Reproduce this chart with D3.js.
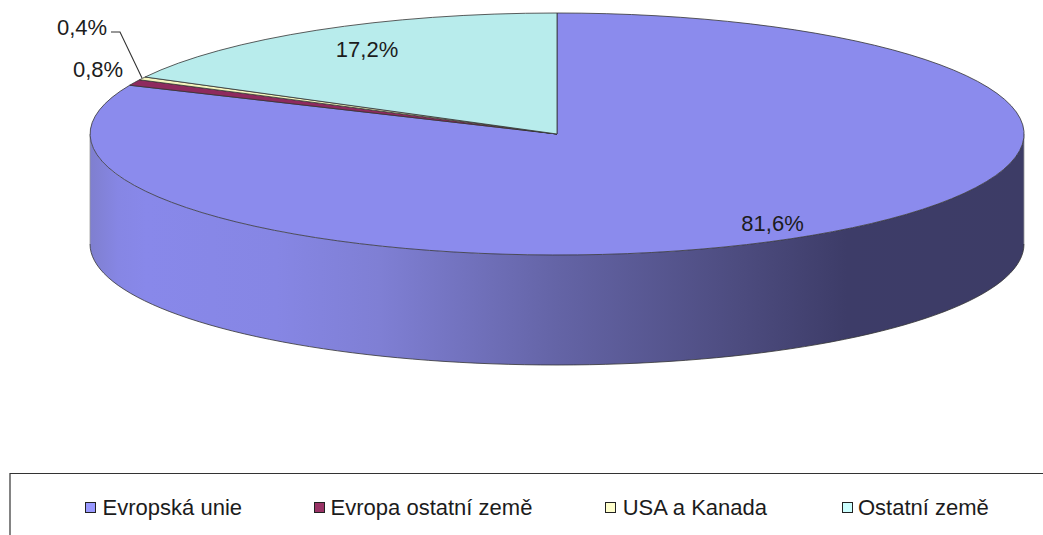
<!DOCTYPE html>
<html><head><meta charset="utf-8">
<script src="https://cdn.jsdelivr.net/npm/d3@7/dist/d3.min.js"></script>
<style>html,body{margin:0;padding:0;background:#fff}svg{display:block}text{font-family:"Liberation Sans",Arial,sans-serif;fill:#1c1c1c}</style>
</head><body><svg id="c" width="1043" height="535"></svg>
<script>
const categories = ["Evropská unie","Evropa ostatní země","USA a Kanada","Ostatní země"];
const values = [81.6,0.8,0.4,17.2];
const labels = ["81,6%","0,8%","0,4%","17,2%"];
const topColors = ["#8b8bed","#8e2a5e","#f5f5bd","#b8ecec"];
const legendColors = ["#9999ff","#993366","#ffffcc","#ccffff"];

const svg = d3.select("#c");
const cx=557, cy=134, rx=467, ry=121, depth=110;
const x = d3.scaleLinear().domain([-1,1]).range([cx-rx,cx+rx]);
const y = d3.scaleLinear().domain([-1,1]).range([cy-ry,cy+ry]);
const pie = d3.pie().sort(null).value(d=>d);
const arcs = pie(values);
const fontSize = 22;

const defs = svg.append("defs");
const g = defs.append("linearGradient").attr("id","side").attr("gradientUnits","userSpaceOnUse")
  .attr("x1",cx-rx).attr("x2",cx+rx).attr("y1",0).attr("y2",0);
[[0,"#7f7fcf"],[0.03,"#8686e4"],[0.06,"#8888ea"],[0.2,"#8686e4"],[0.31,"#7f7fd4"],[0.5,"#6464a6"],[0.7,"#4c4b7e"],[0.81,"#3d3c68"],[1,"#3d3c66"]]
  .forEach(s=>g.append("stop").attr("offset",s[0]).attr("stop-color",s[1]));

// side wall: front half of the ellipse extruded downward
const edge = d3.range(0,181,2).map(a=>{const t=a*Math.PI/180;return [x(Math.cos(t)),y(Math.sin(t))];});
const wall = d3.path();
wall.moveTo(edge[0][0],edge[0][1]);
edge.forEach(p=>wall.lineTo(p[0],p[1]));
edge.slice().reverse().forEach(p=>wall.lineTo(p[0],p[1]+depth));
wall.closePath();
svg.append("path").attr("d",wall.toString()).attr("fill","url(#side)");
svg.append("path").attr("d",d3.line()(edge.map(p=>[p[0],p[1]+depth]))).attr("fill","none").attr("stroke","#333").attr("stroke-width",0.8);
[edge[0],edge[edge.length-1]].forEach(p=>svg.append("path")
  .attr("d",d3.line()([p,[p[0],p[1]+depth]])).attr("fill","none").attr("stroke","#999").attr("stroke-width",0.8));

// top face
const arc = d3.arc().innerRadius(0).outerRadius(1);
svg.append("g").attr("transform",`translate(${cx},${cy}) scale(${rx},${ry})`)
  .selectAll("path").data(arcs).join("path")
  .attr("d",arc).attr("fill",(d,i)=>topColors[i])
  .attr("stroke","#333").attr("stroke-width",0.8).attr("vector-effect","non-scaling-stroke");

// leader line for the 0,4% label
const leader = [[111,32],[120,32],[142,78]];
svg.append("path").attr("d",d3.line()(leader)).attr("fill","none").attr("stroke","#333").attr("stroke-width",1.1);

const lp = [[772.5,223],[98,69],[82,27],[367,49]];
svg.append("g").selectAll("text").data(labels).join("text")
  .attr("transform",(d,i)=>`translate(${lp[i][0]},${lp[i][1]})`)
  .attr("text-anchor","middle").attr("dy","0.35em").attr("font-size",fontSize).text(d=>d);

// legend
svg.append("path").attr("d","M10,535V473.5H1043").attr("fill","none").attr("stroke","#333").attr("stroke-width",1.2);
const lx=[85,314,605,842], tx=[102.6,330.6,622.7,858];
const leg = svg.append("g").selectAll("g").data(categories).join("g");
leg.append("rect").attr("x",(d,i)=>lx[i]+0.5).attr("y",502.5).attr("width",10).attr("height",10)
  .attr("fill",(d,i)=>legendColors[i]).attr("stroke","#222").attr("stroke-width",1);
leg.append("text").attr("transform",(d,i)=>`translate(${tx[i]},507.5)`)
  .attr("dy","0.35em").attr("font-size",fontSize).text(d=>d);
</script></body></html>
